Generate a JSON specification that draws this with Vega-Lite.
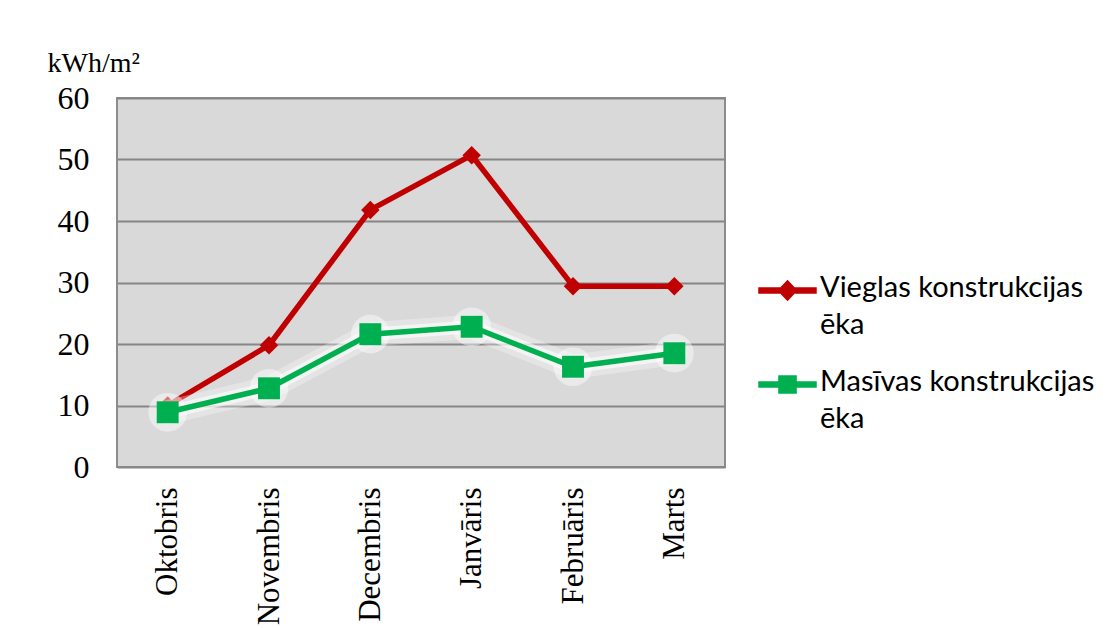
{
  "$schema": "https://vega.github.io/schema/vega-lite/v6.json",
  "width": 608,
  "height": 369,
  "autosize": {"type": "none"},
  "padding": {"left": 117, "top": 98, "right": 390, "bottom": 161},
  "background": "white",
  "config": {
    "view": {"fill": "#d9d9d9", "stroke": "#8c8c8c", "strokeWidth": 2},
    "font": "Liberation Serif"
  },
  "data": {
    "values": [
      {"month": "Oktobris", "series": "Vieglas konstrukcijas ēka", "value": 10},
      {"month": "Novembris", "series": "Vieglas konstrukcijas ēka", "value": 19.8},
      {"month": "Decembris", "series": "Vieglas konstrukcijas ēka", "value": 41.8},
      {"month": "Janvāris", "series": "Vieglas konstrukcijas ēka", "value": 50.7},
      {"month": "Februāris", "series": "Vieglas konstrukcijas ēka", "value": 29.4},
      {"month": "Marts", "series": "Vieglas konstrukcijas ēka", "value": 29.4},
      {"month": "Oktobris", "series": "Masīvas konstrukcijas ēka", "value": 8.9},
      {"month": "Novembris", "series": "Masīvas konstrukcijas ēka", "value": 12.8},
      {"month": "Decembris", "series": "Masīvas konstrukcijas ēka", "value": 21.6},
      {"month": "Janvāris", "series": "Masīvas konstrukcijas ēka", "value": 22.8},
      {"month": "Februāris", "series": "Masīvas konstrukcijas ēka", "value": 16.3},
      {"month": "Marts", "series": "Masīvas konstrukcijas ēka", "value": 18.5}
    ]
  },
  "encoding": {
    "x": {
      "field": "month",
      "type": "nominal",
      "sort": ["Oktobris", "Novembris", "Decembris", "Janvāris", "Februāris", "Marts"],
      "scale": {"type": "point", "padding": 0.5},
      "axis": {
        "title": null,
        "labelAngle": -90,
        "labelAlign": "right",
        "labelBaseline": "middle",
        "labelFont": "Liberation Serif",
        "labelFontSize": 31,
        "labelColor": "black",
        "labelPadding": 20,
        "labelOverlap": false,
        "labelBound": false,
        "ticks": false,
        "domain": false,
        "grid": false
      }
    },
    "y": {
      "field": "value",
      "type": "quantitative",
      "scale": {"domain": [0, 60], "nice": false},
      "axis": {
        "values": [0, 10, 20, 30, 40, 50, 60],
        "title": "kWh/m²",
        "titleAngle": 0,
        "titleAlign": "left",
        "titleBaseline": "alphabetic",
        "titleX": -70,
        "titleY": -27,
        "titleFont": "Liberation Serif",
        "titleFontSize": 28,
        "titleFontWeight": "normal",
        "titleColor": "black",
        "labelFont": "Liberation Serif",
        "labelFontSize": 32,
        "labelColor": "black",
        "labelPadding": 28,
        "labelOverlap": false,
        "labelFlush": false,
        "ticks": false,
        "domain": false,
        "grid": true,
        "gridColor": "#868686",
        "gridWidth": 2
      }
    }
  },
  "layer": [
    {
      "transform": [{"filter": "datum.series === 'Vieglas konstrukcijas ēka'"}],
      "mark": {"type": "line", "strokeWidth": 5.5, "strokeCap": "round", "strokeJoin": "round"},
      "encoding": {
        "color": {
          "field": "series",
          "type": "nominal",
          "scale": {"domain": ["Vieglas konstrukcijas ēka", "Masīvas konstrukcijas ēka"], "range": ["#c00000", "#00b050"]},
          "legend": {
            "title": null,
            "orient": "none",
            "legendX": 641,
            "legendY": 163,
            "labelFont": "Lato",
            "labelFontSize": 29,
            "labelColor": "black",
            "labelOffset": 3,
            "labelLimit": 400,
            "symbolSize": 3249,
            "rowPadding": 15,
            "labelExpr": "[substring(datum.label, 0, length(datum.label) - 4), 'ēka']",
            "encode": {
              "symbols": {
                "update": {
                  "shape": {"signal": "datum.value === 'Vieglas konstrukcijas ēka' ? 'M-1,-0.09L1,-0.09L1,0.09L-1,0.09Z M0,-0.34L0.32,0L0,0.34L-0.32,0Z' : 'M-1,-0.09L1,-0.09L1,0.09L-1,0.09Z M-0.3,-0.3L0.3,-0.3L0.3,0.3L-0.3,0.3Z'"},
                  "fill": {"scale": "color", "field": "value"},
                  "stroke": {"value": "transparent"},
                  "fillOpacity": {"value": 1}
                }
              },
              "labels": {
                "update": {
                  "lineHeight": {"value": 37},
                  "baseline": {"value": "top"},
                  "dy": {"value": -17}
                }
              }
            }
          }
        }
      }
    },
    {
      "transform": [{"filter": "datum.series === 'Vieglas konstrukcijas ēka'"}],
      "mark": {"type": "point", "shape": "diamond", "filled": true, "size": 340, "opacity": 1},
      "encoding": {"color": {"field": "series", "type": "nominal"}}
    },
    {
      "transform": [{"filter": "datum.series === 'Masīvas konstrukcijas ēka'"}],
      "mark": {"type": "line", "stroke": "white", "strokeWidth": 24, "opacity": 0.3, "strokeCap": "round", "strokeJoin": "round"},
      "encoding": {}
    },
    {
      "transform": [{"filter": "datum.series === 'Masīvas konstrukcijas ēka'"}],
      "mark": {"type": "line", "stroke": "white", "strokeWidth": 13, "opacity": 0.6, "strokeCap": "round", "strokeJoin": "round"},
      "encoding": {}
    },
    {
      "transform": [{"filter": "datum.series === 'Masīvas konstrukcijas ēka'"}],
      "mark": {"type": "point", "shape": "circle", "filled": true, "color": "white", "size": 1500, "opacity": 0.45},
      "encoding": {}
    },
    {
      "transform": [{"filter": "datum.series === 'Masīvas konstrukcijas ēka'"}],
      "mark": {"type": "line", "strokeWidth": 5.5, "strokeCap": "round", "strokeJoin": "round"},
      "encoding": {"color": {"field": "series", "type": "nominal"}}
    },
    {
      "transform": [{"filter": "datum.series === 'Masīvas konstrukcijas ēka'"}],
      "mark": {"type": "point", "shape": "square", "filled": true, "size": 480, "opacity": 1},
      "encoding": {"color": {"field": "series", "type": "nominal"}}
    }
  ]
}
